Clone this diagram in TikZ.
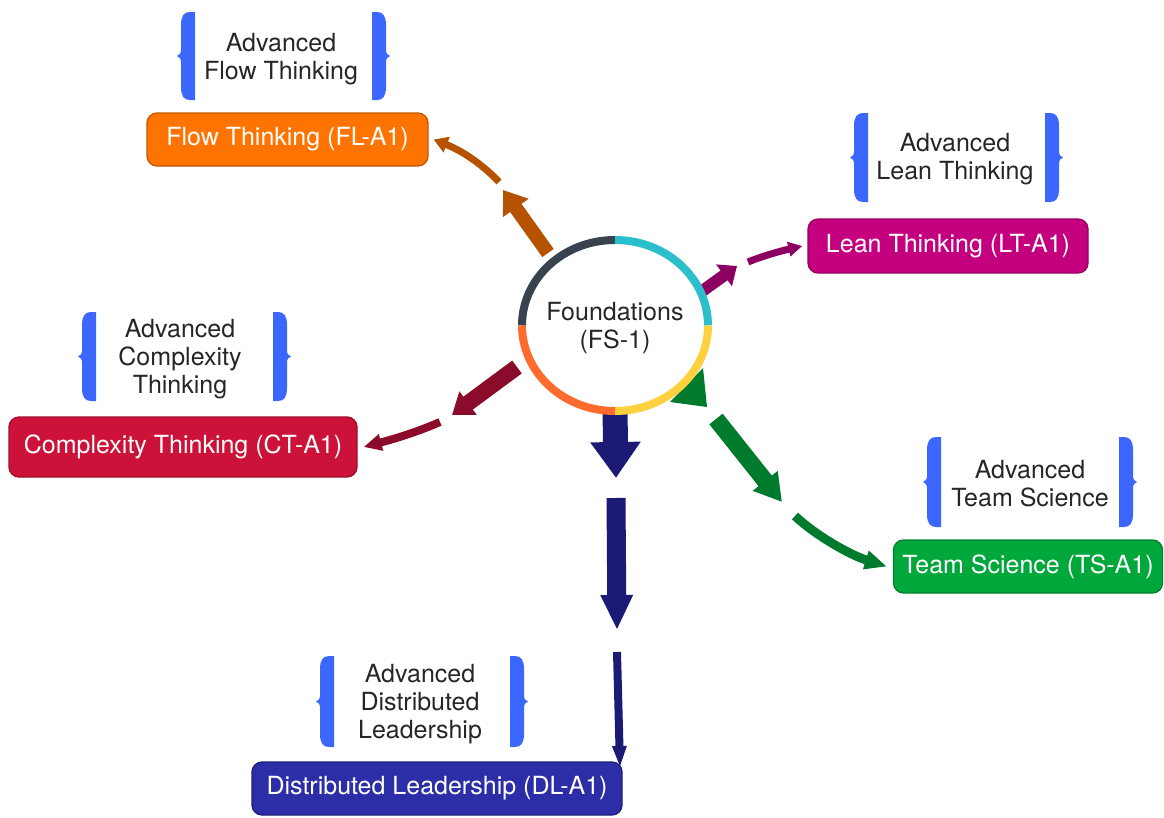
\documentclass[tikz,border=0pt]{standalone}
\usepackage{fontspec}
\setmainfont{TeX Gyre Heros}
\usetikzlibrary{arrows.meta,shapes.geometric}
\definecolor{flf}{HTML}{FF7300}\definecolor{fld}{HTML}{C25700}
\definecolor{ltf}{HTML}{C4007E}\definecolor{ltd}{HTML}{96005F}
\definecolor{ctf}{HTML}{CC1238}\definecolor{ctd}{HTML}{9E0C2B}
\definecolor{tsf}{HTML}{00A83C}\definecolor{tsd}{HTML}{007F2C}
\definecolor{dlf}{HTML}{2B2EA6}\definecolor{dld}{HTML}{1D1F7A}
\definecolor{flarr}{HTML}{B55300}\definecolor{ltarr}{HTML}{8B0061}
\definecolor{ctarr}{HTML}{8B0B2A}\definecolor{tsarr}{HTML}{007A2D}
\definecolor{dlarr}{HTML}{1B1B75}
\definecolor{ringA}{HTML}{39424F}\definecolor{ringB}{HTML}{2BBFCB}
\definecolor{ringC}{HTML}{FFD13F}\definecolor{ringD}{HTML}{FF6B2E}
\definecolor{bracec}{HTML}{3B67FF}\definecolor{labc}{HTML}{262626}
\newcommand\BrLeft[3]{%
 \fill[bracec] (#1,#2) -- (#1,#3) -- (#1-5,#3) .. controls (#1-11,#3) and (#1-14,#3-4) .. (#1-14,#3-13)
  -- (#1-14,{(#2+#3)/2+6}) .. controls (#1-14,{(#2+#3)/2+2}) and (#1-16,{(#2+#3)/2+1}) .. (#1-18,{(#2+#3)/2})
  .. controls (#1-16,{(#2+#3)/2-1}) and (#1-14,{(#2+#3)/2-2}) .. (#1-14,{(#2+#3)/2-6})
  -- (#1-14,#2+13) .. controls (#1-14,#2+4) and (#1-11,#2) .. (#1-5,#2) -- cycle;}
\newcommand\BrRight[3]{%
 \fill[bracec] (#1,#2) -- (#1,#3) -- (#1+5,#3) .. controls (#1+11,#3) and (#1+14,#3-4) .. (#1+14,#3-13)
  -- (#1+14,{(#2+#3)/2+6}) .. controls (#1+14,{(#2+#3)/2+2}) and (#1+16,{(#2+#3)/2+1}) .. (#1+18,{(#2+#3)/2})
  .. controls (#1+16,{(#2+#3)/2-1}) and (#1+14,{(#2+#3)/2-2}) .. (#1+14,{(#2+#3)/2-6})
  -- (#1+14,#2+13) .. controls (#1+14,#2+4) and (#1+11,#2) .. (#1+5,#2) -- cycle;}
\begin{document}
\begin{tikzpicture}[x=1pt,y=-1pt,font=\fontsize{25}{28}\selectfont,
 box/.style={draw,rounded corners=10pt,line width=1.3pt,text=white,inner sep=0pt},
 lab/.style={align=center,text=labc,inner sep=0pt},
 seg/.style={line cap=butt}]
\useasboundingbox (0,0) rectangle (1164,817);

% boxes
\node[box,fill=flf,draw=fld,minimum width=281pt,minimum height=53pt] (fl) at (287.5,139.5) {\raisebox{-1.5pt}{Flow Thinking (FL-A1)}};
\node[box,fill=ltf,draw=ltd,minimum width=280pt,minimum height=54pt] (lt) at (948,246) {\raisebox{-1.5pt}{Lean Thinking (LT-A1)}};
\node[box,fill=ctf,draw=ctd,minimum width=348pt,minimum height=60pt] (ct) at (183,447) {\raisebox{-1.5pt}{Complexity Thinking (CT-A1)}};
\node[box,fill=tsf,draw=tsd,minimum width=269pt,minimum height=53pt] (ts) at (1028,566.5) {\raisebox{-1.5pt}{Team Science (TS-A1)}};
\node[box,fill=dlf,draw=dld,minimum width=370pt,minimum height=53pt] (dl) at (437,788.5) {\raisebox{-1.5pt}{Distributed Leadership (DL-A1)}};

% brace labels
\BrLeft{195}{12}{100}\BrRight{372}{12}{100}
\node[lab] (flx) at (281,59) {Advanced\\Flow Thinking};
\BrLeft{868}{113}{202}\BrRight{1045}{113}{202}
\node[lab] (ltx) at (955,159) {Advanced\\Lean Thinking};
\BrLeft{96}{312}{401}\BrRight{273}{312}{401}
\node[lab] (ctx) at (180,359) {Advanced\\Complexity\\Thinking};
\BrLeft{941}{437}{527}\BrRight{1119}{437}{527}
\node[lab] (tsx) at (1030,484) {Advanced\\Team Science};
\BrLeft{334}{656}{747}\BrRight{510}{656}{747}
\node[lab] (dlx) at (420,704) {Advanced\\Distributed\\Leadership};

% centre node
\node[ellipse,minimum width=194pt,minimum height=179pt,align=center,text=labc,inner sep=0pt] (fs) at (615,328.5) {Foundations\\(FS-1)};

% connector break points
\coordinate (fla) at (548,253); \coordinate (flb) at (503,190); \coordinate (flc) at (499,182);
\coordinate (lta) at (701,292); \coordinate (ltb) at (737,266); \coordinate (ltc) at (748,262);
\coordinate (cta) at (517,367); \coordinate (ctb) at (452,415); \coordinate (ctc) at (440,422);
\coordinate (tsa) at (716,419); \coordinate (tsb) at (782,502); \coordinate (tsc) at (795,516);
\coordinate (dlb) at (616,478); \coordinate (dlc) at (616,498); \coordinate (dld) at (617,630);
\coordinate (dle) at (617,652); \coordinate (dlt) at (620,768);

% FL
\draw[seg,flarr,line width=14pt,-{Triangle[width=30pt,length=22pt]}] (fla) -- (flb);
\draw[seg,flarr,line width=7pt,-{Triangle[width=16pt,length=14pt]}] (flc) .. controls (485,167) and (465,152) .. ([xshift=5pt]fl.east);
% LT
\draw[seg,ltarr,line width=12pt,-{Triangle[width=26pt,length=16pt]}] (lta) -- (ltb);
\draw[seg,ltarr,line width=7pt,-{Triangle[width=14pt,length=14pt]}] (ltc) .. controls (765,255) and (785,250) .. ([xshift=-5pt]lt.west);
% CT
\draw[seg,ctarr,line width=16pt,-{Triangle[width=28pt,length=20pt]}] (cta) -- (ctb);
\draw[seg,ctarr,line width=8pt,-{Triangle[width=16pt,length=18pt]}] (ctc) .. controls (415,433) and (390,440) .. ([xshift=6pt]ct.east);
% TS
\fill[tsarr] (703,368) -- (670,402) -- (707,407) -- cycle;
\draw[seg,tsarr,line width=17pt,-{Triangle[width=30pt,length=27pt]}] (tsa) -- (tsb);
\draw[seg,tsarr,line width=9pt,-{Triangle[width=18pt,length=22pt]}] (tsc) .. controls (815,535) and (850,555) .. ([xshift=-6pt]ts.west);
% DL
\draw[seg,dlarr,line width=25pt,-{Triangle[width=48pt,length=36pt]}] ([yshift=8pt]fs.south) -- (dlb);
\draw[seg,dlarr,line width=19pt,-{Triangle[width=30pt,length=35pt]}] (dlc) -- (dld);
\draw[seg,dlarr,line width=8pt,-{Triangle[width=13pt,length=22pt]}] (dle) -- (dlt);

% ring
\draw[line width=8pt,ringA] (615-93,325.5) arc[start angle=180,end angle=270,x radius=93,y radius=85.5];
\draw[line width=8pt,ringB] (615,240) arc[start angle=270,end angle=360,x radius=93,y radius=85.5];
\draw[line width=8pt,ringC] (615+93,325.5) arc[start angle=0,end angle=90,x radius=93,y radius=85.5];
\draw[line width=8pt,ringD] (615,411) arc[start angle=90,end angle=180,x radius=93,y radius=85.5];
\end{tikzpicture}
\end{document}
